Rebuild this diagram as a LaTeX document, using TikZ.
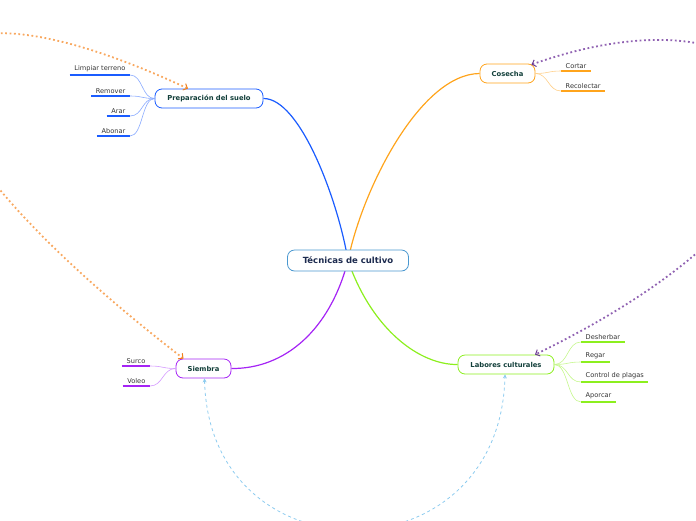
\documentclass[tikz,border=0pt]{standalone}
\usepackage{fontspec}
\setmainfont{DejaVu Sans}
\usepackage{xcolor}
\usetikzlibrary{arrows.meta,backgrounds,calc}

\definecolor{rootblue}{HTML}{4A98D0}
\definecolor{rootink}{HTML}{1D2B4F}
\definecolor{topicink}{HTML}{123F3A}
\definecolor{leafink}{HTML}{333333}
\definecolor{prepblue}{HTML}{1A5CFF}
\definecolor{prepsoft}{HTML}{8AABFF}
\definecolor{cosorange}{HTML}{FFA41C}
\definecolor{cossoft}{HTML}{FFD08A}
\definecolor{siepurple}{HTML}{A524F5}
\definecolor{siesoft}{HTML}{D49AFF}
\definecolor{labgreen}{HTML}{8CEF1E}
\definecolor{labsoft}{HTML}{C6F78E}
\definecolor{relorange}{HTML}{F8A860}
\definecolor{relorangetip}{HTML}{F07F1A}
\definecolor{relpurple}{HTML}{9062B2}
\definecolor{relpurpletip}{HTML}{6A3A90}
\definecolor{relblue}{HTML}{8CCBEF}

\begin{document}
\begin{tikzpicture}[x=1pt, y=-1pt,
  root/.style={draw=rootblue, fill=white, rounded corners=7pt, minimum width=121pt, minimum height=21pt, font=\fontsize{8.5}{9}\selectfont\bfseries, text=rootink, line width=.8pt},
  topic/.style={draw=#1, fill=white, rounded corners=7pt, minimum height=19pt, font=\fontsize{6.8}{7}\selectfont\bfseries, text=topicink, line width=.8pt},
  leaf/.style={font=\fontsize{6.6}{7}\selectfont, text=leafink, inner xsep=4.5pt, inner ysep=2.6pt},
  branch/.style={draw=#1, line width=1.2pt},
  twig/.style={draw=#1, line width=.6pt},
  under/.style={draw=#1, line width=1.4pt},
  rel/.style={draw=#1, line width=1.8pt, dash pattern=on 1.8pt off 2.6pt}
]
\useasboundingbox (0,0) rectangle (696,520);

% main topics
\node[root] (ctr) at (348,260.5) {Técnicas de cultivo};
\node[topic=prepblue, minimum width=108pt] (prep) at (209,98.5) {Preparación del suelo};
\node[topic=cosorange, minimum width=55pt] (cos) at (507.5,73.5) {Cosecha};
\node[topic=siepurple, minimum width=55pt] (sie) at (203.5,368.5) {Siembra};
\node[topic=labgreen, minimum width=96pt] (lab) at (506,364.5) {Labores culturales};

\begin{scope}[on background layer]
\draw[branch=prepblue] (prep.east) .. controls (300,98) and (338,200) .. (ctr.center);
\draw[branch=cosorange] (ctr.center) .. controls (362,190) and (420,74) .. (cos.west);
\draw[branch=siepurple] (ctr.center) .. controls (330,330) and (285,369) .. (sie.east);
\draw[branch=labgreen] (ctr.center) .. controls (372,330) and (420,365) .. (lab.west);
\end{scope}

% leaves
\foreach \n/\t/\y in {p1/Limpiar terreno/75, p2/Remover/96, p3/Arar/116, p4/Abonar/136}{
  \node[leaf, anchor=south east] (\n) at (130,\y) {\t};
  \draw[under=prepblue] (\n.south west) -- (\n.south east);
  \draw[twig=prepsoft] (prep.west) .. controls +(-13,0) and +(13,0) .. (\n.south east);
}
\foreach \n/\t/\y in {c1/Cortar/71, c2/Recolectar/91}{
  \node[leaf, anchor=south west] (\n) at (561,\y) {\t};
  \draw[under=cosorange] (\n.south west) -- (\n.south east);
  \draw[twig=cossoft] (cos.east) .. controls +(13,0) and +(-13,0) .. (\n.south west);
}
\foreach \n/\t/\y in {s1/Surco/366, s2/Voleo/386}{
  \node[leaf, anchor=south east] (\n) at (150,\y) {\t};
  \draw[under=siepurple] (\n.south west) -- (\n.south east);
  \draw[twig=siesoft] (sie.west) .. controls +(-13,0) and +(13,0) .. (\n.south east);
}
\foreach \n/\t/\y in {l1/Desherbar/342, l2/Regar/362, l3/Control de plagas/382, l4/Aporcar/402}{
  \node[leaf, anchor=south west] (\n) at (581,\y) {\t};
  \draw[under=labgreen] (\n.south west) -- (\n.south east);
  \draw[twig=labsoft] (lab.east) .. controls +(14,0) and +(-14,0) .. (\n.south west);
}

% relations
\begin{scope}
\clip (0,0) rectangle (696,520);
\draw[rel=relorange, {Straight Barb[length=3.5pt,width=7pt,color=relorangetip,line width=1pt]}-{Straight Barb[length=3.5pt,width=7pt,color=relorangetip,line width=1pt]}]
  ($(prep.north)+(-21,0)$) .. controls +(-300,-140) and +(-350,-270) .. ($(sie.north)+(-20,0)$);
\draw[rel=relpurple, {Straight Barb[length=3.5pt,width=7pt,color=relpurpletip,line width=1pt]}-{Straight Barb[length=3.5pt,width=7pt,color=relpurpletip,line width=1pt]}]
  ($(cos.north east)+(-4,1)$) .. controls +(269,-95) and +(380,-185) .. ($(lab.north)+(29,0)$);
\draw[draw=relblue, line width=.8pt, dash pattern=on 3pt off 3pt, {Stealth[length=4pt,width=4pt]}-{Stealth[length=4pt,width=4pt]}]
  ($(sie.south)+(1,0)$) .. controls +(5,202) and +(-5,206) .. ($(lab.south)+(-1,0)$);
\end{scope}
\end{tikzpicture}
\end{document}
